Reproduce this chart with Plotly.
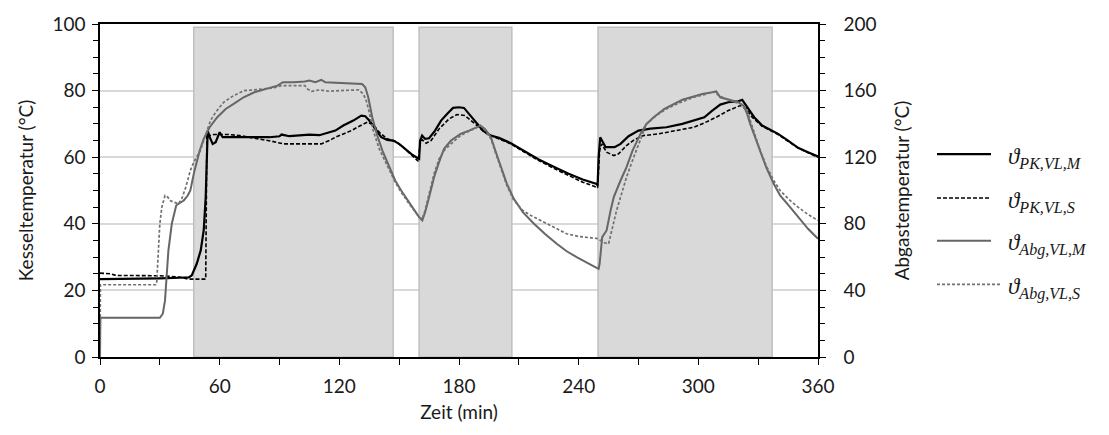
import plotly.graph_objects as go

# ---- data ----
t_pk_m = [0, 10, 20, 30, 40, 44.5, 46, 48.5, 50.5, 52, 53, 53.6, 54, 55, 56.5, 58, 60, 61.5, 65, 75, 85, 90, 91, 95, 100, 105, 110, 113, 118, 122, 127, 131, 133, 135, 138, 141, 144, 147, 150, 153, 156, 159.5, 160, 160.5, 161.5, 163, 165, 168, 171, 174, 177, 180, 182.5, 185, 189, 192, 196, 200, 206, 212, 220, 228, 235, 242, 249, 249.5, 250, 250.8, 252, 253.5, 258, 261, 265, 270, 276, 284, 292, 300, 303, 307, 311, 315, 320, 322, 325, 328, 332, 336, 340, 345, 350, 355, 360]
v_pk_m = [23.4, 23.4, 23.5, 23.6, 23.8, 23.9, 24.5, 28, 32, 38, 48, 60, 68, 66, 64, 64.5, 67.5, 66, 66, 66, 66, 66.3, 66.8, 66.3, 66.5, 66.8, 66.6, 67.2, 68, 69.5, 71, 72.5, 72.3, 71, 68.5, 66, 65.2, 65, 64, 62.5, 61, 59.6, 59.5, 65, 66.5, 65.5, 65.7, 68, 71, 73, 74.8, 75, 74.8, 73, 70, 68, 66.5, 65.8, 64.2, 62, 59.3, 57, 55, 53.3, 52, 51.5, 60, 66, 64.5, 63, 63, 64, 66.3, 68, 68.6, 69, 70, 71.3, 72, 74, 75.8, 76.5, 76.8, 77.2, 74.5, 72, 69.5, 68.3, 67, 65, 62.8, 61.5, 60.2]

t_pk_s = [0, 5, 8, 20, 30, 40, 44, 50, 53, 53.3, 53.6, 55, 57, 60, 65, 70, 75, 80, 86, 92, 100, 106, 111, 115, 118, 122, 126, 130, 134, 137, 140, 144, 148, 152, 156, 159.5, 160.5, 161.5, 163.5, 166, 170, 175, 179, 183, 186, 190, 194, 198, 206, 212, 220, 228, 235, 242, 249, 249.5, 250.5, 251.5, 254, 257.6, 260, 264, 268, 272.6, 280, 288, 297.7, 303, 309, 315, 321, 324, 327, 332, 336, 340, 345, 350, 355, 360]
v_pk_s = [25.2, 25, 24.5, 24.5, 24.4, 24, 23.4, 23.4, 23.4, 45, 67, 66.5, 66.8, 66.8, 66.8, 66.5, 66, 65.5, 64.8, 64, 64, 63.8, 64, 65, 66, 67, 68, 69.3, 70.5, 69.8, 67.5, 65.5, 64.8, 63, 60.8, 58.8, 64, 65.3, 64.2, 65, 68.5, 71.5, 72.8, 72.5, 71, 69, 67, 66, 64, 61.8, 59, 56.5, 54.5, 52.5, 51, 50.8, 62, 64, 61.5, 60.5, 61, 63.5, 65.3, 66.5, 67, 68, 69, 70.3, 72, 74, 75.5, 74.5, 72, 69.3, 68, 66.8, 64.8, 62.8, 61.3, 60]

t_abg_m = [0, 0.2, 10, 20, 30, 31.5, 32.6, 33.5, 34.3, 36, 38.2, 40, 42, 44, 45.3, 47, 48.5, 50, 52, 55, 58.8, 63, 67, 72, 77.4, 83, 89, 91.7, 97, 102.7, 105, 108, 111, 113, 120, 125, 131.4, 133, 134.5, 136.5, 139, 141.6, 145, 148, 151, 155, 158, 160, 161.6, 163, 165, 167.5, 170, 172.5, 176, 180.8, 185, 190.8, 193, 196, 198.5, 201, 204, 207.5, 212, 217.6, 223, 229, 234, 239, 244, 249, 250, 250.5, 251.8, 253, 254, 256, 257.6, 261, 264, 267, 271, 274, 277.6, 283, 287.7, 292, 297.7, 302, 307, 309, 311, 314, 317.7, 320, 322.7, 324.5, 326, 328.5, 331, 334, 337.8, 341, 346, 350, 355, 360]
v_abg_m = [0, 23.5, 23.5, 23.5, 23.5, 26, 34, 50, 64, 80, 91, 92.5, 94, 97, 100, 110, 118, 124, 131, 138, 144, 149, 152, 156, 159, 161, 163, 165, 165, 165.5, 166, 165, 166.5, 165, 164.5, 164.5, 164, 162, 156, 144, 133, 124, 114, 106, 100, 93, 87, 84, 82, 87, 96, 108, 117, 125, 130, 134, 136, 139, 137, 132, 123, 114, 104, 95, 87, 80, 74, 68, 63.5, 60, 56.5, 53.5, 53, 56, 72, 74, 76, 88, 96, 106, 114, 124, 134, 140, 144, 149, 152, 154.5, 156.5, 158, 159, 159.5, 156, 155, 154, 153, 151, 146, 140, 132, 124, 114, 104, 97, 90, 84, 77, 71]

t_abg_s = [0, 0.2, 10, 20, 28, 28.4, 29.2, 30, 31, 32.6, 34, 35, 37, 39.4, 41, 43, 45.3, 47, 50.3, 53, 55.4, 58, 62, 67, 72.3, 77, 82.4, 87, 91, 97, 102.7, 104, 106, 110, 115, 120, 125, 129.7, 132, 133.5, 134.8, 137, 140, 143, 146, 148, 151, 155, 158, 160, 161.5, 163, 165, 167.5, 170, 172.5, 176, 180.8, 185, 190.8, 193, 196, 198.5, 201, 204, 207.5, 212, 216, 220.9, 227, 234, 240, 245, 249, 251, 253, 255, 257, 259, 261, 264, 267.6, 271, 274, 279, 284, 290, 297.7, 303, 307.7, 309, 312, 317, 321, 324.4, 326.5, 329, 331, 334, 337.8, 341, 346, 350, 355, 360]
v_abg_s = [0, 43.4, 43.4, 43.4, 43.4, 44, 64, 80, 90, 97, 96, 94, 93, 92, 95, 102, 112, 117, 124, 134, 142, 147, 153, 157, 160, 160.4, 161, 161.6, 163, 163, 163, 161, 159.6, 160.4, 159.6, 160, 160.2, 160.4, 158, 154, 148, 136, 125, 117, 110, 105, 99, 92, 87, 84, 83, 88, 98, 110, 119, 124, 128, 133, 135.6, 139, 136.4, 131, 122, 113, 103, 94, 88, 85, 82, 78, 74, 72.4, 71.6, 71.2, 70, 68.6, 68, 78, 88, 96, 108, 120, 131, 140, 145, 149, 152.4, 156, 157.6, 159.4, 158, 156, 153.6, 152, 148, 140, 131, 124, 115, 106, 100, 94, 90, 85.6, 82]

# burner-on phases (shaded), in minutes
phase_start = [47, 160, 249.7]
phase_end = [147, 206.5, 337]
phase_top = 99

x_ticks = [0, 60, 120, 180, 240, 300, 360]
names = ["ϑ<sub>PK,VL,M</sub>", "ϑ<sub>PK,VL,S</sub>", "ϑ<sub>Abg,VL,M</sub>", "ϑ<sub>Abg,VL,S</sub>"]

TXT = "#1a1a1a"
FONT = "Lato"

# plot area geometry in pixels (for the hand-drawn legend)
W, H = 1109, 435
ML, MR, MT, MB = 100, 291, 22, 78
PW, PH = W - ML - MR, H - MT - MB


def px_x(p):
    return (p - ML) / PW


def px_y(p):
    return (H - MB - p) / PH


styles = [
    dict(color="#000000", width=2.2),
    dict(color="#000000", width=1.6, dash="4px,2px"),
    dict(color="#666666", width=2),
    dict(color="#707070", width=1.7, dash="3px,2px"),
]
series = [(t_pk_m, v_pk_m, "y"), (t_pk_s, v_pk_s, "y"), (t_abg_m, v_abg_m, "y2"), (t_abg_s, v_abg_s, "y2")]

fig = go.Figure()
for (tx, vy, ax), nm, st in zip(series, names, styles):
    fig.add_trace(go.Scatter(x=tx, y=vy, mode="lines", name=nm, yaxis=ax, line=st, showlegend=False))

for a, b in zip(phase_start, phase_end):
    fig.add_shape(type="rect", xref="x", yref="y", x0=a, x1=b, y0=0, y1=phase_top,
                  fillcolor="#d9d9d9", line=dict(color="#bfbfbf", width=1.5), layer="between")

# legend (drawn by hand to match the reference's long sample lines)
leg_y = [153, 197, 240, 284]
leg_len = [54, 54, 54, 63]
for i, (nm, st) in enumerate(zip(names, styles)):
    fig.add_shape(type="line", xref="paper", yref="paper",
                  x0=px_x(937), x1=px_x(937 + leg_len[i]), y0=px_y(leg_y[i]), y1=px_y(leg_y[i]),
                  line=st)
    fig.add_annotation(xref="paper", yref="paper", x=px_x(1006), y=px_y(leg_y[i] + 4),
                       xanchor="left", yanchor="middle", text=nm, showarrow=False,
                       font=dict(family="Liberation Serif, DejaVu Serif", size=23, color=TXT, style="italic"))

fig.update_layout(
    width=W, height=H,
    margin=dict(l=ML, r=MR, t=MT, b=MB),
    plot_bgcolor="white", paper_bgcolor="white",
    font=dict(family=FONT, size=19, color=TXT),
    showlegend=False,
    xaxis=dict(range=[0, 360], tickvals=x_ticks, ticks="outside", ticklen=6, tickcolor="#000",
               showline=True, linecolor="#000", linewidth=1.5, mirror=True,
               showgrid=False, zeroline=False, ticklabelstandoff=5,
               minor=dict(dtick=30, tick0=0, ticks="outside", ticklen=6, tickcolor="#000", showgrid=False),
               title=dict(text="Zeit (min)", font=dict(size=19), standoff=10),
               tickfont=dict(size=19)),
    yaxis=dict(range=[0, 100], dtick=20, ticks="outside", ticklen=6, tickcolor="#000",
               showline=True, linecolor="#000", linewidth=1.5,
               showgrid=True, gridcolor="#d9d9d9", gridwidth=1.5, zeroline=False,
               ticklabelstandoff=3,
               minor=dict(dtick=5, ticks="outside", ticklen=5, tickcolor="#000", showgrid=False),
               title=dict(text="Kesseltemperatur (°C)", font=dict(size=19), standoff=14),
               tickfont=dict(size=19)),
    yaxis2=dict(range=[0, 200], dtick=40, overlaying="y", side="right",
                ticks="outside", ticklen=6, tickcolor="#000",
                showline=True, linecolor="#000", linewidth=1.5,
                showgrid=False, zeroline=False, ticklabelstandoff=14,
                minor=dict(dtick=10, ticks="outside", ticklen=5, tickcolor="#000", showgrid=False),
                title=dict(text="Abgastemperatur (°C)", font=dict(size=19), standoff=20),
                tickfont=dict(size=19)),
)

fig.write_html("out.html")
